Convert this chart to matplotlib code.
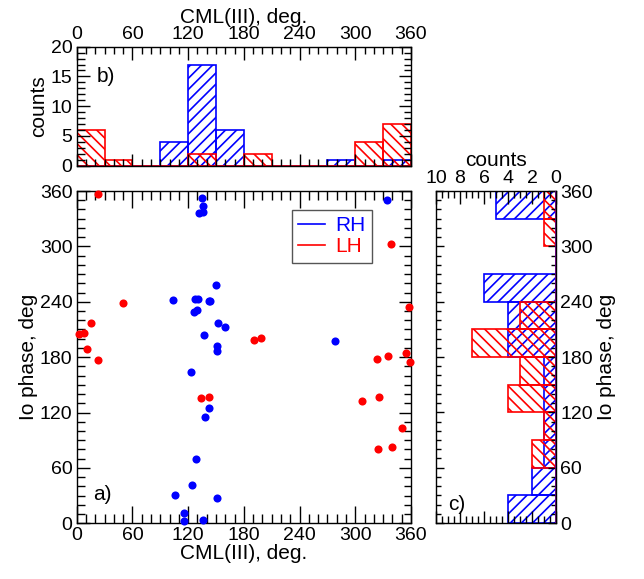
import numpy as np
import matplotlib
matplotlib.use("Agg")
import matplotlib.pyplot as plt
from matplotlib.ticker import MultipleLocator

plt.rcParams['font.family'] = ['Liberation Sans', 'DejaVu Sans']
plt.rcParams['hatch.linewidth'] = 1.2

# --- data: CML(III) and Io phase of the events, deg ---
rh_cml = [135, 136, 132, 136, 150.5, 104, 127, 131, 142, 144, 126, 130, 152, 160, 137,
          151, 151, 123, 142, 138, 128, 124, 106, 151, 116, 116, 136, 334, 278]
rh_phase = [352, 344, 336, 337, 258, 242, 243, 243, 241, 240.5, 229, 231, 217, 213, 204,
            192, 187, 164, 125, 115, 70, 41, 31, 27, 11, 2, 4, 350, 198]

lh_cml = [23, 50, 15, 3, 8, 11, 23, 134, 142, 191, 199, 339, 358, 355, 359, 335, 323,
          307, 326, 350, 324, 340]
lh_phase = [357, 239, 217, 205, 206, 189, 177, 136, 137, 199, 201, 303, 234, 185, 175,
            181, 178, 132, 137, 103, 80, 83]

bins = np.arange(0, 361, 30)
deg_ticks = [0, 60, 120, 180, 240, 300, 360]

W, H = 644, 579
fig = plt.figure(figsize=(W / 100, H / 100), dpi=100)

TICK_FS = 14
LABEL_FS = 15


def px_axes(x0, y0, x1, y1):
    return fig.add_axes([x0 / W, 1 - y1 / H, (x1 - x0) / W, (y1 - y0) / H])


def style(ax, xlen=12, ylen=9):
    ax.tick_params(which='both', direction='in', top=True, bottom=True, left=True,
                   right=True, labelsize=TICK_FS, width=1, pad=3)
    ax.tick_params(axis='x', which='major', length=xlen)
    ax.tick_params(axis='x', which='minor', length=xlen * 0.55)
    ax.tick_params(axis='y', which='major', length=ylen)
    ax.tick_params(axis='y', which='minor', length=ylen * 0.6)
    for s in ax.spines.values():
        s.set_linewidth(1)


# a) scatter
ax = px_axes(76.7, 191, 411, 523.3)
ax.scatter(rh_cml, rh_phase, s=34, color='blue', zorder=3, clip_on=False, linewidths=0)
ax.scatter(lh_cml, lh_phase, s=34, color='red', zorder=3, clip_on=False, linewidths=0)
ax.set_xlim(0, 360)
ax.set_ylim(0, 360)
ax.xaxis.set_major_locator(MultipleLocator(60))
ax.xaxis.set_minor_locator(MultipleLocator(10))
ax.yaxis.set_major_locator(MultipleLocator(60))
ax.yaxis.set_minor_locator(MultipleLocator(10))
style(ax, xlen=12, ylen=9)
ax.set_xlabel('CML(III), deg.', fontsize=LABEL_FS, labelpad=0)
ax.set_ylabel('Io phase, deg', fontsize=LABEL_FS, labelpad=1)
ax.text(0.05, 0.07, 'a)', transform=ax.transAxes, fontsize=LABEL_FS)
ax.plot([], [], color='blue', lw=1.2, label='RH')
ax.plot([], [], color='red', lw=1.2, label='LH')
leg = ax.legend(loc='upper left', bbox_to_anchor=(0.643, 0.943), fontsize=LABEL_FS,
                labelcolor='linecolor', fancybox=False, edgecolor='#555555',
                framealpha=1, handlelength=1.3, handletextpad=0.5,
                borderpad=0.3, labelspacing=0.1, borderaxespad=0)
leg.get_frame().set_linewidth(1)

# b) CML histogram
axt = px_axes(76.7, 46.7, 411, 165.7)
axt.hist(rh_cml, bins=bins, fill=False, edgecolor='blue', hatch='///', lw=1.2)
axt.hist(lh_cml, bins=bins, fill=False, edgecolor='red', hatch='\\\\\\', lw=1.2)
axt.set_xlim(0, 360)
axt.set_ylim(0, 20)
axt.set_xticks(deg_ticks)
axt.xaxis.set_minor_locator(MultipleLocator(10))
axt.yaxis.set_major_locator(MultipleLocator(5))
axt.yaxis.set_minor_locator(MultipleLocator(1))
style(axt, xlen=9, ylen=9)
axt.tick_params(axis='x', labelbottom=False, labeltop=True)
axt.xaxis.set_label_position('top')
axt.set_xlabel('CML(III), deg.', fontsize=LABEL_FS, labelpad=2)
axt.set_ylabel('counts', fontsize=LABEL_FS, labelpad=2)
axt.text(0.06, 0.7, 'b)', transform=axt.transAxes, fontsize=LABEL_FS)

# c) Io phase histogram
axr = px_axes(436, 191, 556, 523)
axr.hist(rh_phase, bins=bins, orientation='horizontal', fill=False, edgecolor='blue',
         hatch='///', lw=1.2)
axr.hist(lh_phase, bins=bins, orientation='horizontal', fill=False, edgecolor='red',
         hatch='\\\\\\', lw=1.2)
axr.axvline(0, color='#5a0a8c', lw=1.2, zorder=4)
axr.set_xlim(10, 0)
axr.set_ylim(0, 360)
axr.xaxis.set_major_locator(MultipleLocator(2))
axr.xaxis.set_minor_locator(MultipleLocator(0.5))
axr.set_yticks(deg_ticks)
axr.yaxis.set_minor_locator(MultipleLocator(10))
style(axr, xlen=9, ylen=6)
axr.tick_params(axis='x', labelbottom=False, labeltop=True)
axr.tick_params(axis='y', labelleft=False, labelright=True)
axr.xaxis.set_label_position('top')
axr.yaxis.set_label_position('right')
axr.set_xlabel('counts', fontsize=LABEL_FS, labelpad=3)
axr.set_ylabel('Io phase, deg', fontsize=LABEL_FS, labelpad=3)
axr.text(0.1, 0.04, 'c)', transform=axr.transAxes, fontsize=LABEL_FS)

fig.savefig('out.png', dpi=100)
